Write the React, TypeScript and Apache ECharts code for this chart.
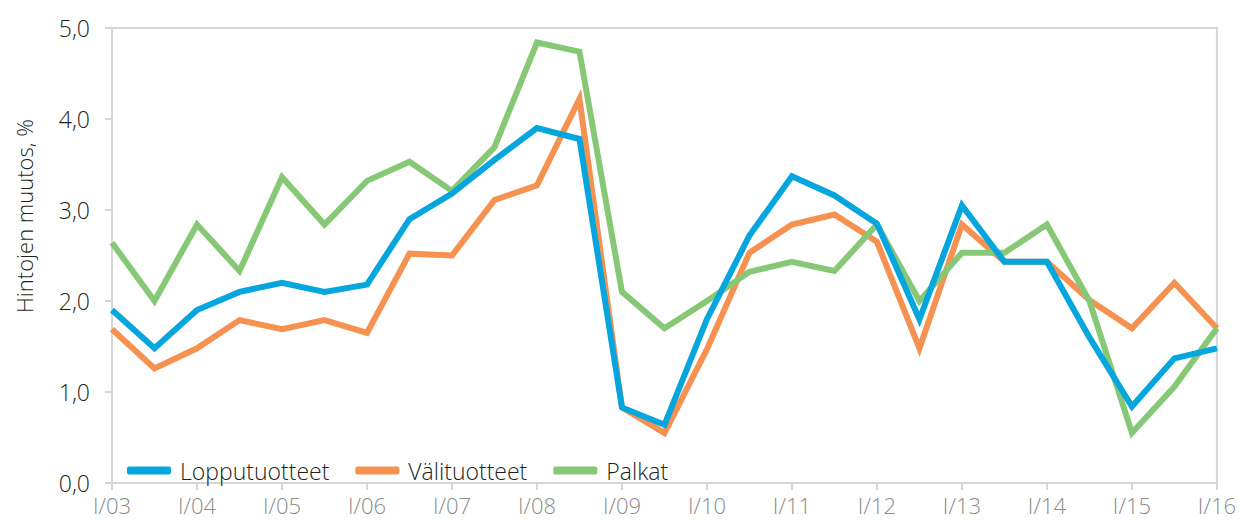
import React, { useEffect, useRef } from "react";
import * as echarts from "echarts";

const years = ["03","04","05","06","07","08","09","10","11","12","13","14","15","16"];
const categories: string[] = [];
years.forEach((y, i) => {
  categories.push("I/" + y);
  if (i < years.length - 1) categories.push("II/" + y);
});

const lopputuotteet = [1.9,1.48,1.9,2.1,2.2,2.1,2.18,2.9,3.18,3.55,3.9,3.78,0.83,0.64,1.8,2.72,3.37,3.16,2.85,1.8,3.05,2.43,2.43,1.6,0.84,1.37,1.48];
const valituotteet = [1.69,1.26,1.48,1.79,1.69,1.79,1.65,2.52,2.5,3.11,3.27,4.22,0.83,0.55,1.47,2.53,2.84,2.95,2.65,1.48,2.84,2.43,2.43,2.01,1.7,2.2,1.7];
const palkat = [2.64,2.0,2.84,2.33,3.36,2.84,3.32,3.53,3.21,3.69,4.84,4.74,2.1,1.7,2.0,2.32,2.43,2.33,2.84,2.0,2.53,2.53,2.84,2.0,0.55,1.06,1.7];

const seriesNames = ["Lopputuotteet", "Välituotteet", "Palkat"];
const colors = ["#05a5dd", "#f59151", "#87c877"];
const yName = "Hintojen muutos, %";

const FONT = "'Open Sans', sans-serif";

export default function App() {
  const ref = useRef<HTMLDivElement>(null);
  useEffect(() => {
    document.body.style.margin = "0";
    const chart = echarts.init(ref.current!, null, { renderer: "svg" });
    const data = [lopputuotteet, valituotteet, palkat];
    chart.setOption({
      animation: false,
      backgroundColor: "#ffffff",
      textStyle: { fontFamily: FONT, fontWeight: 300 },
      grid: { left: 112, right: 22, top: 28, bottom: 37, show: true, borderColor: "#d6d6d6", borderWidth: 2 },
      legend: {
        left: 122,
        top: 454,
        itemWidth: 44,
        itemHeight: 8,
        itemGap: 26,
        icon: "roundRect",
        textStyle: { fontSize: 23, color: "#231f20", fontFamily: FONT, fontWeight: 300, padding: [0, 0, 0, 4] },
        data: seriesNames,
      },
      xAxis: {
        type: "category",
        data: categories,
        boundaryGap: false,
        axisLine: { lineStyle: { color: "#d6d6d6", width: 2 } },
        axisTick: { show: true, interval: 1, length: 7, lineStyle: { color: "#d6d6d6", width: 2 } },
        axisLabel: { interval: 1, color: "#8a8a8a", fontSize: 22, fontWeight: 300, margin: 11, fontFamily: FONT },
        splitLine: { show: false },
      },
      yAxis: {
        type: "value",
        min: 0,
        max: 5,
        interval: 1,
        axisLine: { show: true, lineStyle: { color: "#d6d6d6", width: 2 } },
        axisTick: { show: true, length: 7, lineStyle: { color: "#d6d6d6", width: 2 } },
        axisLabel: {
          color: "#231f20",
          fontSize: 23,
          fontWeight: 300,
          margin: 22,
          fontFamily: FONT,
          formatter: (v: number) => v.toFixed(1).replace(".", ","),
        },
        splitLine: { show: false },
      },
      graphic: [
        {
          type: "text",
          x: 24,
          y: 216,
          rotation: Math.PI / 2,
          style: {
            text: yName,
            fontSize: 22,
            fontWeight: 300,
            fontFamily: FONT,
            fill: "#231f20",
            align: "center",
            verticalAlign: "middle",
          },
        },
      ],
      series: seriesNames.map((name, i) => ({
        name,
        type: "line",
        data: data[i],
        symbol: "none",
        lineStyle: { width: 6, color: colors[i], join: "miter" },
        itemStyle: { color: colors[i] },
        z: i === 2 ? 3 : i === 0 ? 4 : 2,
      })),
    });
    return () => chart.dispose();
  }, []);
  return <div ref={ref} style={{ width: 1239, height: 520 }} />;
}
